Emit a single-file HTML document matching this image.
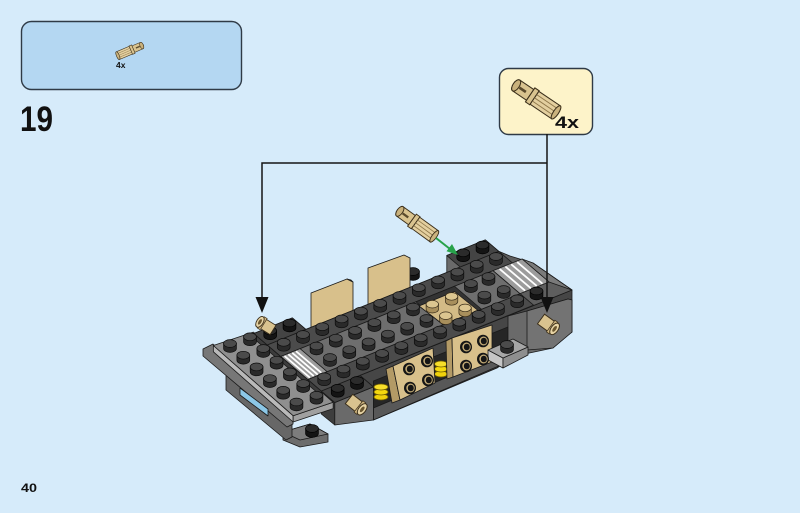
<!DOCTYPE html>
<html><head><meta charset="utf-8"><style>
html,body{margin:0;padding:0;background:#d6ebfa;}
svg{display:block;}
text{font-family:"Liberation Sans",sans-serif;font-weight:bold;fill:#111;}
</style></head><body>
<svg width="800" height="513" viewBox="0 0 800 513" xmlns="http://www.w3.org/2000/svg">
<defs>
 <g id="s"><path d="M-6.4,-2.5 V2.5 A6.4,3.9 0 0 0 6.4,2.5 V-2.5 Z" fill="#2a2a2a" stroke="#0c0c0c" stroke-width=".7"/><ellipse cx="0" cy="-2.5" rx="6.4" ry="3.9" fill="#4b4b4b" stroke="#0c0c0c" stroke-width=".7"/></g>
 <g id="b"><path d="M-6.4,-2.5 V2.5 A6.4,3.9 0 0 0 6.4,2.5 V-2.5 Z" fill="#141414" stroke="#000" stroke-width=".7"/><ellipse cx="0" cy="-2.5" rx="6.4" ry="3.9" fill="#2b2b2b" stroke="#000" stroke-width=".7"/></g>
 <g id="t"><path d="M-6.2,-2.5 V2.5 A6.2,3.8 0 0 0 6.2,2.5 V-2.5 Z" fill="#a88f5c" stroke="#3a2e1a" stroke-width=".7"/><ellipse cx="0" cy="-2.5" rx="6.2" ry="3.8" fill="#dcc690" stroke="#3a2e1a" stroke-width=".7"/></g>
 <g id="f"><ellipse cx="0" cy="0" rx="6" ry="6.3" fill="#151515"/><ellipse cx="0.5" cy="0" rx="4.2" ry="4.5" fill="#c7ae78"/><ellipse cx="0.8" cy="0" rx="3" ry="3.3" fill="#151515"/></g>
 <g id="pn">
  <path d="M2,-5 H15 V5 H2 A2.5,5 0 0 1 2,-5 Z" fill="#d9c38f" stroke="#3a2e1a" stroke-width=".8"/>
  <ellipse cx="2" cy="0" rx="2.5" ry="5" fill="#c9b17c" stroke="#3a2e1a" stroke-width=".8"/>
  <rect x="5" y="-1" width="6" height="2" fill="#5a4a2c"/>
  <rect x="15" y="-6.5" width="4" height="13" fill="#d9c38f" stroke="#3a2e1a" stroke-width=".8"/>
  <path d="M19,-6 H39 V6 H19 Z" fill="#e3cf9f" stroke="#3a2e1a" stroke-width=".8"/>
  <path d="M19,-3 H39 M19,0 H39 M19,3 H39" stroke="#8e774a" stroke-width=".7"/>
  <ellipse cx="39" cy="0" rx="2" ry="6" fill="#cbb37e" stroke="#3a2e1a" stroke-width=".8"/>
 </g>
 <g id="ps">
  <rect x="0" y="-5" width="14" height="10" fill="#d9c38f" stroke="#3a2e1a" stroke-width=".8"/>
  <rect x="10" y="-6" width="3" height="12" fill="#cdb47f" stroke="#3a2e1a" stroke-width=".6"/>
  <ellipse cx="14" cy="0" rx="3" ry="5.5" fill="#e6d3a4" stroke="#3a2e1a" stroke-width=".8"/>
  <ellipse cx="14" cy="0" rx="1.3" ry="2.8" fill="#6b5730"/>
 </g>
</defs>

<rect width="800" height="513" fill="#d6ebfa"/>

<!-- parts list box -->
<rect x="21.5" y="21.5" width="220" height="68" rx="10" fill="#b4d7f2" stroke="#2f3a46" stroke-width="1.4"/>
<use href="#pn" transform="translate(143,45) rotate(157) scale(0.7)"/>
<text x="116" y="68" font-size="8.5">4x</text>

<text x="20" y="131" font-size="35" textLength="33" lengthAdjust="spacingAndGlyphs">19</text>

<!-- callout -->
<rect x="499.5" y="68.5" width="93" height="66" rx="9" fill="#fdf3c9" stroke="#2f3a46" stroke-width="1.4"/>
<use href="#pn" transform="translate(514,84) rotate(34) scale(1.3)"/>
<text x="555" y="128" font-size="17" textLength="24" lengthAdjust="spacingAndGlyphs">4x</text>

<!-- ===== MODEL ===== -->
<g stroke="#1a1a1a" stroke-width=".8" stroke-linejoin="round">
 <!-- tan panels behind -->
 <polygon points="311,293 347,279 353,282 353,325 315,340 311,338" fill="#d8c08b"/>
 <polygon points="347,279 351,280 353,282" fill="#b89f6a"/>
 <use href="#b" x="413" y="274"/>
 <polygon points="368,268 404,255 410,258 410,300 372,315 368,313" fill="#d8c08b"/>

 <!-- bottom small plate -->
 <polygon points="283,432 310,424 328,434 328,442 300,447 283,440" fill="#6c6c6c"/>
 <polygon points="283,432 310,424 328,434 300,440" fill="#7d7d7d"/>
 <use href="#b" x="312" y="431"/>
 <!-- lower plate -->
 <polygon points="226,374 292,420 292,437 286,440 226,390" fill="#676767"/>
 <!-- under plate left -->
 <polygon points="203,349 213,344 293,414 293,424 287,427 203,356" fill="#777777"/>
 <!-- blue tile -->
 <polygon points="240,388 268,409 268,416 240,395" fill="#8cc7e6"/>

 <!-- chassis front face -->
 <polygon points="359.9,375.4 572,290 572,332 553,346 520,352 497,368 373.4,420 373.4,386.9" fill="#464646"/>
 <polygon points="373.4,381 508,327 508,352 373.4,408" fill="#262626"/>
 <polygon points="373.4,408 508,352 508,362 373.4,420" fill="#585858"/>
 <polygon points="508,316 527,311 568,299 572,300 572,332 553,348 520,355 508,352" fill="#6a6a6a"/>
 <polygon points="527,311 568,299 572,300 572,332 553,348 527,350" fill="#737373"/>
 <!-- front-left block -->
 <polygon points="321.3,391 334.8,402.5 334.8,425 321.3,414" fill="#3e3e3e"/>
 <polygon points="334.8,402.5 373.4,386.9 373.4,420 334.8,425" fill="#6a6a6a"/>

 <!-- light plate -->
 <polygon points="213.35,345.5 293.15,415.7 293.15,422 213.35,351.8" fill="#b9b9b9"/>
 <polygon points="293.15,415.7 333.15,402.3 333.15,408.6 293.15,422" fill="#a0a0a0"/>
 <polygon points="213.35,345.5 253.35,332.1 333.15,402.3 293.15,415.7" fill="#8f8f8f"/>

 <!-- chassis left thin face -->
 <polygon points="253.8,333.5 321.3,391 321.3,396 253.8,338.5" fill="#3c3c3c"/>

 <!-- chassis top -->
 <polygon points="253.8,333.5 292.4,317.9 305.9,329.4 460.3,267 446.8,255.5 485.4,239.9 498.9,251.4 510,256 533,263 572,290 359.9,375.4 373.4,386.9 334.8,402.5 321.3,391" fill="#5e5e5e"/>
 <polygon points="522,259 533,263 572,290 549,282" fill="#7a7a7a"/>
 <polygon points="446.8,255.5 460.3,267 446.8,272.5" fill="#6a6a6a"/>
 <polygon points="253.8,333.5 292.4,317.9 305.9,329.4 267.3,345" fill="#444"/>
 <polygon points="446.8,255.5 485.4,239.9 498.9,251.4 460.3,267" fill="#444"/>
 <polygon points="321.3,391 359.9,375.4 373.4,386.9 334.8,402.5" fill="#444"/>
 <!-- rails -->
 <polygon points="267.3,345 498.9,251.4 512.4,262.9 280.8,356.45" fill="#4b4b4b"/>
 <polygon points="307.8,379.45 520.1,293.65 533.6,305.15 321.3,391" fill="#4b4b4b"/>
 <!-- middle band -->
 <polygon points="280.8,356.45 493.1,270.65 520.1,293.65 307.8,379.45" fill="#6e6e6e"/>
 <!-- tan recess -->
 <polygon points="415.9,301.85 454.5,286.25 481.5,309.25 442.9,324.85" fill="#333"/>
 <polygon points="419,306 454.5,291.5 478,310.5 443,324.5" fill="#d3bb86"/>
 <!-- left stripes tile -->
 <polygon points="280.8,356.45 300.1,348.65 327.1,371.65 307.8,379.45" fill="#9c9c9c"/>
 <!-- right stripes tile -->
 <polygon points="493.1,270.65 522.05,258.95 549.05,281.95 520.1,293.65" fill="#9c9c9c"/>
</g>
<g stroke="#fff" stroke-width="1.8" stroke-linecap="round">
 <line x1="285.05" y1="356.43" x2="309.35" y2="377.13"/>
 <line x1="288.91" y1="354.87" x2="313.21" y2="375.57"/>
 <line x1="292.77" y1="353.31" x2="317.07" y2="374.01"/>
 <line x1="296.63" y1="351.75" x2="320.93" y2="372.45"/>
 <line x1="500.24" y1="269.46" x2="524.54" y2="290.16"/>
 <line x1="506.03" y1="267.12" x2="530.33" y2="287.82"/>
 <line x1="511.82" y1="264.78" x2="536.12" y2="285.48"/>
 <line x1="517.61" y1="262.44" x2="541.91" y2="283.14"/>
</g>

<!-- front details -->
<g stroke="#1a1a1a" stroke-width=".8" stroke-linejoin="round">
 <ellipse cx="381" cy="397" rx="7" ry="3" fill="#f0d20c" stroke="#6f5c00"/>
 <ellipse cx="381" cy="392" rx="7" ry="3" fill="#f5d90f" stroke="#6f5c00"/>
 <ellipse cx="381" cy="387" rx="7" ry="3" fill="#f7de2a" stroke="#6f5c00"/>
 <ellipse cx="441" cy="374" rx="6.5" ry="3" fill="#f0d20c" stroke="#6f5c00"/>
 <ellipse cx="441" cy="369" rx="6.5" ry="3" fill="#f5d90f" stroke="#6f5c00"/>
 <ellipse cx="441" cy="364" rx="6.5" ry="3" fill="#f7de2a" stroke="#6f5c00"/>
 <!-- tan brick 1 -->
 <polygon points="386,369 393,366 400,400 392,403" fill="#b39a66"/>
 <polygon points="393,366 433,348 435,383 400,400" fill="#d8c08b"/>
 <!-- tan brick 2 -->
 <polygon points="446,341 452,338 453,377 447,379" fill="#b39a66"/>
 <polygon points="452,338 492,325 492,362 453,377" fill="#d8c08b"/>
 <!-- light gray piece -->
 <polygon points="488,350 503,358 503,368 488,360" fill="#c6c6c6"/>
 <polygon points="503,358 528,347 528,355 503,368" fill="#8f8f8f"/>
 <polygon points="488,350 513,339 528,347 503,358" fill="#a6a6a6"/>
</g>
<use href="#f" x="409" y="369"/><use href="#f" x="427" y="361"/>
<use href="#f" x="410" y="388"/><use href="#f" x="428" y="380"/>
<use href="#f" x="466" y="347"/><use href="#f" x="483" y="341"/>
<use href="#f" x="466" y="366"/><use href="#f" x="483" y="359"/>
<use href="#s" x="507" y="347"/>

<!-- studs: black blocks -->
<use href="#b" x="270.2" y="333.3"/><use href="#b" x="289.5" y="325.5"/>
<use href="#b" x="463.2" y="255.3"/><use href="#b" x="482.5" y="247.5"/>
<!-- r=0 -->
<use href="#s" x="283.7" y="344.8"/><use href="#s" x="303" y="337"/><use href="#s" x="322.3" y="329.2"/><use href="#s" x="341.6" y="321.4"/><use href="#s" x="360.9" y="313.6"/><use href="#s" x="380.2" y="305.8"/><use href="#s" x="399.5" y="298"/><use href="#s" x="418.8" y="290.2"/><use href="#s" x="438.1" y="282.4"/><use href="#s" x="457.4" y="274.6"/><use href="#s" x="476.7" y="266.8"/><use href="#s" x="496" y="259"/>
<!-- r=1 -->
<use href="#s" x="316.5" y="348.5"/><use href="#s" x="335.8" y="340.7"/><use href="#s" x="355.1" y="332.9"/><use href="#s" x="374.4" y="325.1"/><use href="#s" x="393.7" y="317.3"/><use href="#s" x="413" y="309.5"/><use href="#s" x="470.9" y="286.1"/><use href="#s" x="488.5" y="279"/>
<!-- tan recess studs -->
<use href="#t" x="432.3" y="306.7"/><use href="#t" x="451.6" y="298.9"/><use href="#t" x="445.8" y="318.2"/><use href="#t" x="465.1" y="310.4"/>
<!-- r=2 -->
<use href="#s" x="330" y="360"/><use href="#s" x="349.3" y="352.2"/><use href="#s" x="368.6" y="344.4"/><use href="#s" x="387.9" y="336.6"/><use href="#s" x="407.2" y="328.8"/><use href="#s" x="426.5" y="321"/><use href="#s" x="484.4" y="297.6"/><use href="#s" x="503.7" y="292"/>
<!-- r=3 -->
<use href="#s" x="324.2" y="379.3"/><use href="#s" x="343.5" y="371.5"/><use href="#s" x="362.8" y="363.7"/><use href="#s" x="382.1" y="355.9"/><use href="#s" x="401.4" y="348.1"/><use href="#s" x="420.7" y="340.3"/><use href="#s" x="440" y="332.5"/><use href="#s" x="459.3" y="324.7"/><use href="#s" x="478.6" y="316.9"/><use href="#s" x="497.9" y="309.1"/><use href="#s" x="517.2" y="301.3"/><use href="#b" x="536.5" y="293.5"/>
<!-- front-left block -->
<use href="#b" x="337.7" y="390.8"/><use href="#b" x="357" y="383"/>
<!-- light plate studs -->
<use href="#s" x="230" y="346"/><use href="#s" x="243.3" y="357.7"/><use href="#s" x="256.6" y="369.4"/><use href="#s" x="269.9" y="381.1"/><use href="#s" x="283.2" y="392.8"/><use href="#s" x="296.5" y="404.5"/>
<use href="#s" x="250" y="339.3"/><use href="#s" x="263.3" y="351"/><use href="#s" x="276.6" y="362.7"/><use href="#s" x="289.9" y="374.4"/><use href="#s" x="303.2" y="386.1"/><use href="#s" x="316.5" y="397.8"/>

<!-- pins on model -->
<use href="#ps" transform="translate(273,330) rotate(212) scale(1.1)"/>
<use href="#ps" transform="translate(349,399) rotate(38) scale(1.2)"/>
<use href="#ps" transform="translate(541,319) rotate(36) scale(1.2)"/>

<!-- floating pin + green arrow -->
<use href="#pn" transform="translate(398,210) rotate(36) scale(1.15)"/>
<line x1="436" y1="238" x2="450" y2="249" stroke="#27a24a" stroke-width="2"/>
<polygon points="458,255 446.5,251.2 452,244" fill="#27a24a"/>

<!-- connectors -->
<path d="M547,134 V163 H262 V300 M547,163 V300" fill="none" stroke="#151515" stroke-width="1.5"/>
<polygon points="255.5,297 268.5,297 262,313" fill="#111"/>
<polygon points="540.5,297 553.5,297 547,313" fill="#111"/>

<text x="21" y="492" font-size="12" textLength="16" lengthAdjust="spacingAndGlyphs">40</text>
</svg>
</body></html>
